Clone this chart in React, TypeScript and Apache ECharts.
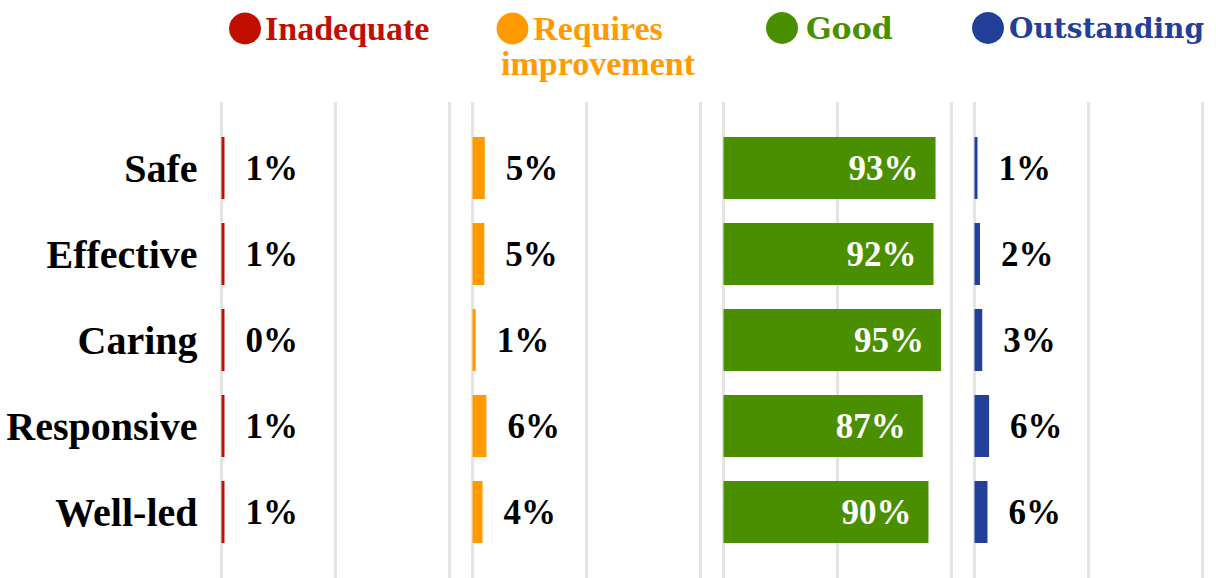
import React, { useEffect, useRef } from "react";
import * as echarts from "echarts";

const categories = ["Safe", "Effective", "Caring", "Responsive", "Well-led"];
const ratingNames = ["Inadequate", "Requires improvement", "Good", "Outstanding"];
const ratingColors = ["#c00f00", "#ff9a00", "#4a8f00", "#22409a"];

const inadequate = [1, 1, 0, 1, 1];
const requiresImprovement = [5.4, 5.2, 1.4, 6.1, 4.4];
const good = [93, 92.1, 95.4, 87.4, 89.9];
const outstanding = [1.3, 2.4, 3.4, 6.4, 5.7];

const seriesValues = [inadequate, requiresImprovement, good, outstanding];
const xTicks = [0, 50, 100];

const SERIF = "Liberation Serif";
const panelLeft = [221.5, 472.5, 723.5, 974.5];
const panelWidth = 228;

export default function App() {
  const ref = useRef<HTMLDivElement>(null);

  useEffect(() => {
    if (!ref.current) return;
    const chart = echarts.init(ref.current, null, { renderer: "svg" });

    const grids: any[] = [];
    const xAxes: any[] = [];
    const yAxes: any[] = [];
    const series: any[] = [];

    // gridline grids (0..3)
    panelLeft.forEach((left) => {
      grids.push({ left, width: panelWidth, top: 102, height: 480 });
    });
    // bar grids (4..7)
    panelLeft.forEach((left) => {
      grids.push({ left, width: panelWidth, top: 125, height: 430 });
    });

    panelLeft.forEach((_, i) => {
      xAxes.push({
        type: "value",
        gridIndex: i,
        min: xTicks[0],
        max: xTicks[xTicks.length - 1],
        interval: xTicks[1] - xTicks[0],
        axisLabel: { show: false },
        axisLine: { show: false },
        axisTick: { show: false },
        splitLine: { show: true, lineStyle: { color: "#e4e4e4", width: 3 } },
      });
      yAxes.push({ type: "value", gridIndex: i, show: false });
    });

    panelLeft.forEach((_, i) => {
      xAxes.push({
        type: "value",
        gridIndex: 4 + i,
        min: xTicks[0],
        max: xTicks[xTicks.length - 1],
        show: false,
        splitLine: { show: false },
      });
      yAxes.push({
        type: "category",
        gridIndex: 4 + i,
        data: categories,
        inverse: true,
        axisLine: { show: false },
        axisTick: { show: false },
        splitLine: { show: false },
        axisLabel: {
          show: i === 0,
          margin: 24,
          color: "#000",
          fontFamily: SERIF,
          fontWeight: "bold",
          fontSize: 40,
        },
      });
      const inside = i === 2;
      series.push({
        type: "bar",
        name: ratingNames[i],
        xAxisIndex: 4 + i,
        yAxisIndex: 4 + i,
        data: seriesValues[i],
        barWidth: 62,
        barMinHeight: 3,
        itemStyle: { color: ratingColors[i] },
        label: {
          show: true,
          position: inside ? "insideRight" : "right",
          distance: inside ? 17 : 21,
          formatter: (p: any) => Math.round(p.value) + "%",
          color: inside ? "#fff" : "#000",
          fontFamily: SERIF,
          fontWeight: "bold",
          fontSize: 35,
        },
      });
    });

    const legendPos = [
      { cx: 245, cy: 28.5, tx: 265, align: "left", font: SERIF, size: 34 },
      { cx: 512.5, cy: 28.5, tx: 598, align: "center", font: SERIF, size: 34 },
      { cx: 782, cy: 28, tx: 806, align: "left", font: "DejaVu Serif", size: 30 },
      { cx: 988, cy: 28, tx: 1009, align: "left", font: "DejaVu Serif", size: 28 },
    ];
    const graphic: any[] = [];
    ratingNames.forEach((name, i) => {
      const p = legendPos[i];
      graphic.push({
        type: "circle",
        shape: { cx: p.cx, cy: p.cy, r: 16 },
        style: { fill: ratingColors[i] },
      });
      graphic.push({
        type: "text",
        x: p.tx,
        y: p.cy - 17.5,
        style: {
          text: name.replace(" ", "\n"),
          fill: ratingColors[i],
          fontFamily: p.font,
          fontWeight: "bold",
          fontSize: p.size,
          lineHeight: 35,
          align: p.align,
          verticalAlign: "top",
        },
      });
    });

    chart.setOption({
      animation: false,
      grid: grids,
      xAxis: xAxes,
      yAxis: yAxes,
      series,
      graphic,
    });

    return () => chart.dispose();
  }, []);

  return (
    <div
      ref={ref}
      style={{ position: "absolute", left: 0, top: 0, width: 1216, height: 578, background: "#fff" }}
    />
  );
}
